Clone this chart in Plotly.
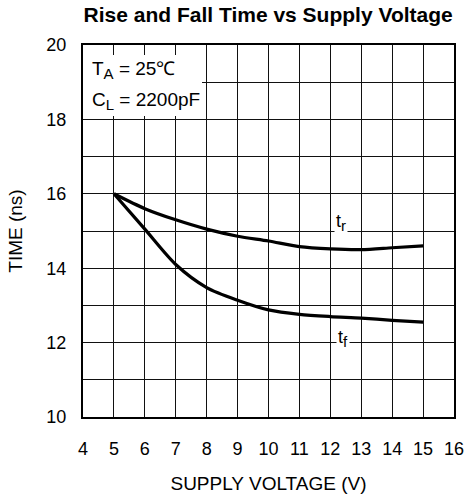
import plotly.graph_objects as go

voltage = [5, 6, 7, 8, 9, 10, 11, 12, 13, 14, 15]
rise_time = [16.0, 15.6, 15.3, 15.05, 14.86, 14.73, 14.58, 14.52, 14.5, 14.55, 14.6]
fall_time = [16.0, 15.05, 14.1, 13.48, 13.14, 12.88, 12.76, 12.7, 12.66, 12.6, 12.55]

x_ticks = list(range(4, 17))
y_ticks = [10, 12, 14, 16, 18, 20]

FONT = "Liberation Sans, Arial, sans-serif"

fig = go.Figure()
for series, name in [(rise_time, "tr"), (fall_time, "tf")]:
    fig.add_trace(go.Scatter(x=voltage, y=series, mode="lines",
                             line=dict(color="black", width=3.2, shape="spline", smoothing=0.8),
                             showlegend=False, name=name))

fig.update_layout(
    width=468, height=496,
    margin=dict(l=83, r=14, t=45, b=79),
    paper_bgcolor="white", plot_bgcolor="white",
    font=dict(family=FONT, size=18, color="black"),
    title=dict(text="<b>Rise and Fall Time vs Supply Voltage</b>",
               x=0.573, xanchor="center", y=0.97, yanchor="middle",
               font=dict(family=FONT, size=21, color="black")),
    xaxis=dict(range=[4, 16], tickvals=x_ticks, showgrid=True, gridcolor="#111",
               gridwidth=1.3, showline=True, linecolor="black", linewidth=2, mirror=True,
               ticks="", zeroline=False, automargin=False, ticklabelstandoff=14,
               tickfont=dict(family=FONT, size=18),
               title=dict(text="SUPPLY VOLTAGE (V)", standoff=19,
                          font=dict(family=FONT, size=19))),
    yaxis=dict(range=[10, 20], tickvals=y_ticks, showgrid=True, gridcolor="#111",
               gridwidth=1.3, showline=True, linecolor="black", linewidth=2, mirror=True,
               ticks="", zeroline=False, automargin=False, ticklabelstandoff=11,
               tickfont=dict(family=FONT, size=18),
               minor=dict(dtick=1, showgrid=True, gridcolor="#111", gridwidth=1.3),
               title=dict(text="TIME (ns)", standoff=19,
                          font=dict(family=FONT, size=19))),
)

# white box behind the conditions text
fig.add_shape(type="rect", xref="x", yref="y", x0=4, x1=7.85, y0=18.09, y1=19.73,
              fillcolor="white", line=dict(width=0), layer="above")

SUB = '<sub><span style="font-size:15px">{}</span></sub>'

fig.add_annotation(x=4, y=19.33, xref="x", yref="y", xanchor="left", yanchor="middle",
                   xshift=8, align="left",
                   text="T" + SUB.format("A") + " = 25℃", showarrow=False,
                   font=dict(family=FONT, size=19, color="black"), borderpad=0)
fig.add_annotation(x=4, y=18.49, xref="x", yref="y", xanchor="left", yanchor="middle",
                   xshift=8, align="left",
                   text="C" + SUB.format("L") + " = 2200pF", showarrow=False,
                   font=dict(family=FONT, size=19, color="black"), borderpad=0)
fig.add_annotation(x=12.35, y=15.24, xref="x", yref="y", text="t" + SUB.format("r"),
                   showarrow=False, bgcolor="white",
                   font=dict(family=FONT, size=18, color="black"), borderpad=1)
fig.add_annotation(x=12.41, y=12.12, xref="x", yref="y", text="t" + SUB.format("f"),
                   showarrow=False, bgcolor="white",
                   font=dict(family=FONT, size=18, color="black"), borderpad=1)

fig.write_html("out.html", config={"displayModeBar": False},
               post_script="document.body.style.margin='0';document.body.style.overflow='hidden';")
